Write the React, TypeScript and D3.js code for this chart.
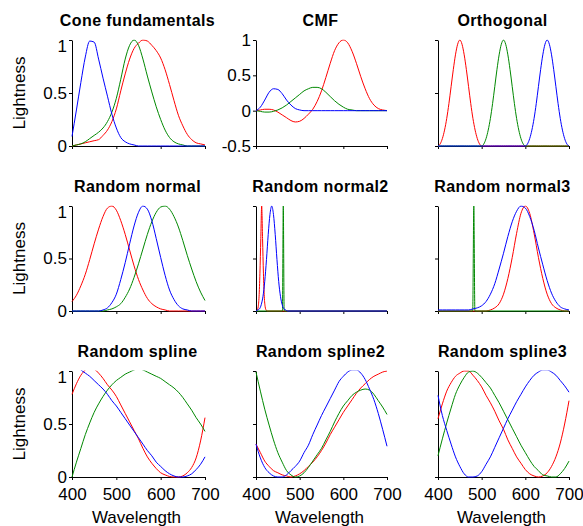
import React, { useRef, useEffect } from 'react';
import * as d3 from 'd3';

// wavelength grids
const wl10 = [400, 410, 420, 430, 440, 450, 460, 470, 480, 490, 500, 510, 520, 530, 540, 550, 560, 570, 580, 590, 600, 610, 620, 630, 640, 650, 660, 670, 680, 690, 700];
const wl5 = [
  400, 405, 410, 415, 420, 425, 430, 435, 440, 445, 450, 455, 460, 465, 470, 475, 480, 485, 490, 495,
  500, 505, 510, 515, 520, 525, 530, 535, 540, 545, 550, 555, 560, 565, 570, 575, 580, 585, 590, 595,
  600, 605, 610, 615, 620, 625, 630, 635, 640, 645, 650, 655, 660, 665, 670, 675, 680, 685, 690, 695, 700,
];

// Cone fundamentals
const coneRed = [0, 0.01, 0.02, 0.03, 0.04, 0.05, 0.06, 0.1, 0.15, 0.23, 0.35, 0.52, 0.68, 0.82, 0.92, 0.97, 1.0, 0.99, 0.95, 0.9, 0.83, 0.72, 0.58, 0.43, 0.29, 0.19, 0.11, 0.06, 0.03, 0.02, 0.01];
const coneGreen = [0, 0.01, 0.02, 0.04, 0.07, 0.1, 0.13, 0.17, 0.23, 0.32, 0.45, 0.63, 0.82, 0.95, 1.0, 0.95, 0.82, 0.66, 0.51, 0.37, 0.25, 0.15, 0.08, 0.04, 0.02, 0.01, 0, 0, 0, 0, 0];
const coneBlue = [0.09, 0.34, 0.6, 0.84, 0.99, 0.98, 0.82, 0.64, 0.47, 0.3, 0.17, 0.08, 0.04, 0.02, 0.01, 0, 0, 0, 0, 0, 0, 0, 0, 0, 0, 0, 0, 0, 0, 0, 0];

// CMF
const cmfRed = [0, 0.01, 0.02, 0.02, 0.01, -0.02, -0.06, -0.1, -0.14, -0.16, -0.15, -0.11, -0.05, 0.02, 0.13, 0.28, 0.47, 0.67, 0.85, 0.96, 1.0, 0.96, 0.84, 0.67, 0.48, 0.31, 0.17, 0.08, 0.03, 0.01, 0];
const cmfGreen = [0, -0.01, -0.02, -0.02, -0.01, 0.01, 0.04, 0.08, 0.13, 0.18, 0.23, 0.28, 0.31, 0.33, 0.33, 0.31, 0.26, 0.2, 0.14, 0.09, 0.05, 0.02, 0.01, 0, 0, 0, 0, 0, 0, 0, 0];
const cmfBlue = [0, 0.05, 0.15, 0.26, 0.31, 0.3, 0.24, 0.15, 0.08, 0.03, 0.01, 0, 0, 0, 0, 0, 0, 0, 0, 0, 0, 0, 0, 0, 0, 0, 0, 0, 0, 0, 0];

// Orthogonal (5 nm)
const orthoRed = [
  0, 0.02, 0.07, 0.15, 0.26, 0.4, 0.56, 0.72, 0.86, 0.96, 1, 0.96, 0.86, 0.72, 0.56, 0.4, 0.26, 0.15, 0.07, 0.02,
  0, 0, 0, 0, 0, 0, 0, 0, 0, 0, 0, 0, 0, 0, 0, 0, 0, 0, 0, 0,
  0, 0, 0, 0, 0, 0, 0, 0, 0, 0, 0, 0, 0, 0, 0, 0, 0, 0, 0, 0, 0,
];
const orthoGreen = [
  0, 0, 0, 0, 0, 0, 0, 0, 0, 0, 0, 0, 0, 0, 0, 0, 0, 0, 0, 0,
  0, 0.02, 0.07, 0.15, 0.26, 0.4, 0.56, 0.72, 0.86, 0.96, 1, 0.96, 0.86, 0.72, 0.56, 0.4, 0.26, 0.15, 0.07, 0.02,
  0, 0, 0, 0, 0, 0, 0, 0, 0, 0, 0, 0, 0, 0, 0, 0, 0, 0, 0, 0, 0,
];
const orthoBlue = [
  0, 0, 0, 0, 0, 0, 0, 0, 0, 0, 0, 0, 0, 0, 0, 0, 0, 0, 0, 0,
  0, 0, 0, 0, 0, 0, 0, 0, 0, 0, 0, 0, 0, 0, 0, 0, 0, 0, 0, 0,
  0, 0.02, 0.07, 0.15, 0.26, 0.4, 0.56, 0.72, 0.86, 0.96, 1, 0.96, 0.86, 0.72, 0.56, 0.4, 0.26, 0.15, 0.07, 0.02, 0,
];

// Random normal
const normRed = [0.09, 0.15, 0.24, 0.35, 0.49, 0.64, 0.78, 0.9, 0.98, 1.0, 0.96, 0.86, 0.73, 0.58, 0.43, 0.3, 0.2, 0.12, 0.07, 0.04, 0.02, 0.01, 0, 0, 0, 0, 0, 0, 0, 0, 0];
const normGreen = [0, 0, 0, 0, 0, 0, 0, 0, 0.01, 0.02, 0.04, 0.07, 0.13, 0.21, 0.32, 0.45, 0.59, 0.73, 0.85, 0.94, 0.99, 1.0, 0.97, 0.9, 0.8, 0.67, 0.53, 0.4, 0.28, 0.18, 0.1];
const normBlue = [0, 0, 0, 0, 0, 0, 0, 0.01, 0.03, 0.08, 0.16, 0.3, 0.46, 0.64, 0.81, 0.94, 1.0, 0.97, 0.86, 0.69, 0.51, 0.34, 0.2, 0.11, 0.05, 0.02, 0.01, 0, 0, 0, 0];

// Random normal2
const norm2RedWl = [400, 403, 405, 407, 409, 411, 413, 415, 417, 419, 421, 423, 425, 700];
const norm2Red = [0, 0.01, 0.04, 0.135, 0.36, 0.69, 1, 0.69, 0.36, 0.135, 0.04, 0.01, 0, 0];
const norm2GreenWl = [400, 460.5, 462.5, 464.5, 700];
const norm2Green = [0, 0, 1, 0, 0];
const norm2BlueWl = [400, 404, 408, 412, 416, 420, 424, 428, 432, 436, 440, 444, 448, 452, 456, 460, 464, 468, 472, 700];
const norm2Blue = [0, 0.01, 0.02, 0.06, 0.14, 0.28, 0.49, 0.73, 0.92, 1.0, 0.92, 0.73, 0.49, 0.28, 0.14, 0.06, 0.02, 0.01, 0, 0];

// Random normal3
const norm3Red = [0, 0, 0, 0, 0, 0, 0, 0, 0, 0, 0, 0, 0.01, 0.03, 0.07, 0.16, 0.31, 0.51, 0.74, 0.93, 1.0, 0.93, 0.74, 0.51, 0.31, 0.16, 0.07, 0.03, 0.01, 0, 0];
const norm3GreenWl = [400, 479.5, 482, 484.5, 700];
const norm3Green = [0, 0, 1, 0, 0];
const norm3Blue = [0.01, 0.01, 0.01, 0.01, 0.01, 0.01, 0.01, 0.01, 0.02, 0.03, 0.05, 0.09, 0.16, 0.26, 0.4, 0.55, 0.71, 0.85, 0.95, 1.0, 0.98, 0.9, 0.77, 0.6, 0.44, 0.29, 0.17, 0.09, 0.04, 0.02, 0.01];

// Random spline
const splRed = [0.78, 0.88, 0.96, 1.01, 1.04, 1.02, 0.98, 0.93, 0.87, 0.82, 0.76, 0.68, 0.6, 0.52, 0.44, 0.36, 0.27, 0.19, 0.13, 0.08, 0.04, 0.02, 0.005, 0, 0, 0.01, 0.04, 0.09, 0.18, 0.34, 0.56];
const splGreen = [0, 0.14, 0.27, 0.4, 0.51, 0.61, 0.69, 0.76, 0.82, 0.87, 0.91, 0.94, 0.97, 0.99, 1.01, 1.02, 1.01, 0.99, 0.97, 0.95, 0.93, 0.9, 0.87, 0.84, 0.8, 0.75, 0.69, 0.63, 0.56, 0.5, 0.43];
const splBlue = [1.1, 1.05, 1.01, 0.98, 0.95, 0.91, 0.87, 0.83, 0.78, 0.72, 0.67, 0.61, 0.55, 0.49, 0.43, 0.37, 0.31, 0.25, 0.2, 0.14, 0.1, 0.06, 0.03, 0.01, 0, 0, 0.01, 0.03, 0.07, 0.12, 0.19];

// Random spline2
const spl2Red = [0.31, 0.23, 0.15, 0.1, 0.06, 0.04, 0.02, 0.01, 0, 0.01, 0.03, 0.06, 0.1, 0.14, 0.19, 0.25, 0.32, 0.4, 0.47, 0.54, 0.61, 0.67, 0.73, 0.79, 0.84, 0.88, 0.92, 0.95, 0.97, 0.99, 1.0];
const spl2Green = [0.99, 0.81, 0.64, 0.49, 0.35, 0.23, 0.14, 0.06, 0.02, 0, 0.01, 0.04, 0.09, 0.15, 0.21, 0.27, 0.35, 0.43, 0.52, 0.6, 0.67, 0.72, 0.77, 0.8, 0.82, 0.83, 0.82, 0.78, 0.72, 0.66, 0.59];
const spl2Blue = [0.31, 0.18, 0.09, 0.04, 0.01, 0, 0, 0.02, 0.06, 0.1, 0.15, 0.23, 0.3, 0.4, 0.49, 0.58, 0.66, 0.74, 0.82, 0.9, 0.95, 0.99, 1.01, 1.01, 0.98, 0.92, 0.83, 0.73, 0.6, 0.45, 0.29];

// Random spline3
const spl3Red = [0.55, 0.69, 0.81, 0.89, 0.95, 0.98, 1.0, 1.0, 0.96, 0.91, 0.85, 0.77, 0.7, 0.62, 0.53, 0.45, 0.35, 0.27, 0.19, 0.13, 0.07, 0.03, 0.01, 0, 0.01, 0.04, 0.1, 0.19, 0.32, 0.5, 0.72];
const spl3Green = [0.2, 0.36, 0.51, 0.65, 0.78, 0.87, 0.94, 0.99, 1.0, 0.98, 0.94, 0.89, 0.84, 0.77, 0.7, 0.62, 0.54, 0.46, 0.38, 0.3, 0.23, 0.16, 0.1, 0.06, 0.02, 0.01, 0, 0, 0.03, 0.08, 0.15];
const spl3Blue = [0.77, 0.58, 0.44, 0.31, 0.19, 0.1, 0.03, 0, 0, 0.01, 0.05, 0.12, 0.19, 0.28, 0.37, 0.46, 0.55, 0.63, 0.71, 0.78, 0.85, 0.91, 0.96, 0.99, 1.01, 1.01, 0.99, 0.96, 0.91, 0.86, 0.8];

const titles = [
  'Cone fundamentals', 'CMF', 'Orthogonal',
  'Random normal', 'Random normal2', 'Random normal3',
  'Random spline', 'Random spline2', 'Random spline3',
];
const xTicks = [400, 500, 600, 700];
const yTicks = [0, 0.5, 1];
const cmfTicks = [-0.5, 0, 0.5, 1];

const RED = '#ff0000';
const GREEN = '#008800';
const BLUE = '#0000ff';

const panelSeries = [
  [[wl10, coneRed], [wl10, coneGreen], [wl10, coneBlue]],
  [[wl10, cmfRed], [wl10, cmfGreen], [wl10, cmfBlue]],
  [[wl5, orthoRed], [wl5, orthoGreen], [wl5, orthoBlue]],
  [[wl10, normRed], [wl10, normGreen], [wl10, normBlue]],
  [[norm2RedWl, norm2Red], [norm2GreenWl, norm2Green], [norm2BlueWl, norm2Blue]],
  [[wl10, norm3Red], [norm3GreenWl, norm3Green], [wl10, norm3Blue]],
  [[wl10, splRed], [wl10, splGreen], [wl10, splBlue]],
  [[wl10, spl2Red], [wl10, spl2Green], [wl10, spl2Blue]],
  [[wl10, spl3Red], [wl10, spl3Green], [wl10, spl3Blue]],
];

const colX = [[72, 205], [256, 387], [438, 569]];
const rowY = [[40, 146], [206, 311], [371, 477]];
const FONT = 'Arial, "Liberation Sans", sans-serif';

function SpectraGrid() {
  const ref = useRef(null);

  useEffect(() => {
    const root = d3.select(ref.current);
    root.selectAll('*').remove();

    const svg = root
      .append('svg')
      .attr('width', 583)
      .attr('height', 526)
      .style('position', 'absolute')
      .style('left', '0px')
      .style('top', '0px')
      .style('background', '#fff');

    panelSeries.forEach((series, i) => {
      const col = i % 3;
      const row = Math.floor(i / 3);
      const [x0, x1] = colX[col];
      const [y0, y1] = rowY[row];
      const isCmf = i === 1;

      const x = d3.scaleLinear().domain([400, 700]).range([x0, x1]);
      const y = d3.scaleLinear().domain(isCmf ? [-0.5, 1] : [0, 1]).range([y1, y0]);

      const g = svg.append('g');

      const clipId = 'clip' + i;
      svg
        .append('clipPath')
        .attr('id', clipId)
        .append('rect')
        .attr('x', x0 - 1)
        .attr('y', y0 - 0.5)
        .attr('width', x1 - x0 + 2)
        .attr('height', y1 - y0 + 1.5);

      const xAxis = g
        .append('g')
        .attr('transform', 'translate(0,' + y1 + ')')
        .call(
          d3.axisBottom(x)
            .tickValues(xTicks)
            .tickSize(3)
            .tickSizeOuter(0)
            .tickPadding(8)
            .tickFormat((d) => (row === 2 ? String(d) : ''))
        );
      xAxis.attr('font-size', 17).attr('font-family', FONT);

      const showY = col === 0 || isCmf;
      const yAxis = g
        .append('g')
        .attr('transform', 'translate(' + x0 + ',0)')
        .call(
          d3.axisLeft(y)
            .tickValues(isCmf ? cmfTicks : yTicks)
            .tickSize(3)
            .tickSizeOuter(0)
            .tickPadding(2)
            .tickFormat((d) => (showY ? String(d) : ''))
        );
      yAxis.attr('font-size', 17).attr('font-family', FONT);
      if (col === 0) {
        yAxis.selectAll('.tick text').filter((d) => d === 1).attr('dy', '0.65em');
      }

      series.forEach(([wl, vals], k) => {
        const line = d3
          .line()
          .x((d, j) => x(wl[j]))
          .y((d) => y(d))
          .curve(d3.curveMonotoneX);
        g.append('path')
          .datum(vals)
          .attr('d', line)
          .attr('fill', 'none')
          .attr('stroke', [RED, GREEN, BLUE][k])
          .attr('stroke-width', 1)
          .attr('clip-path', 'url(#' + clipId + ')');
      });

      g.append('text')
        .attr('x', (x0 + x1) / 2 - 1)
        .attr('y', y0 - 14)
        .attr('text-anchor', 'middle')
        .attr('font-family', FONT)
        .attr('font-weight', 'bold')
        .attr('font-size', 16)
        .attr('letter-spacing', 0.4)
        .text(titles[i]);

      if (col === 0) {
        g.append('text')
          .attr('transform', 'translate(25,' + (y0 + y1) / 2 + ') rotate(-90)')
          .attr('text-anchor', 'middle')
          .attr('font-family', FONT)
          .attr('font-size', 17)
          .text('Lightness');
      }
      if (row === 2) {
        g.append('text')
          .attr('x', (x0 + x1) / 2 - 2)
          .attr('y', 523)
          .attr('text-anchor', 'middle')
          .attr('font-family', FONT)
          .attr('font-size', 17)
          .text('Wavelength');
      }
    });
  }, []);

  return <div className="chart-container" ref={ref} />;
}

export default function App() {
  return <SpectraGrid />;
}
